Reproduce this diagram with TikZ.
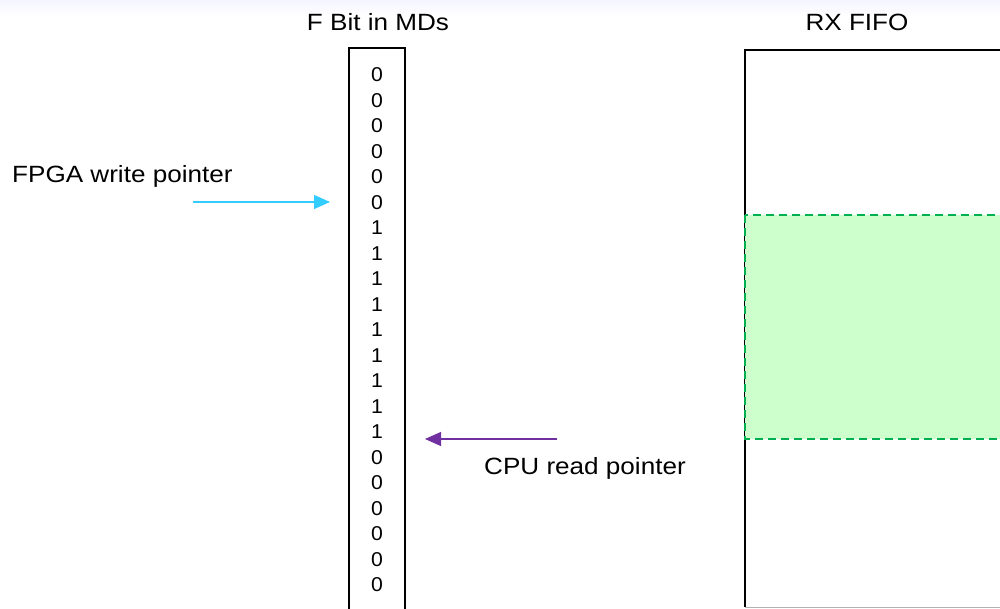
\documentclass[tikz,border=0pt]{standalone}
\usepackage{fontspec}
\setmainfont{Liberation Sans}
\usetikzlibrary{arrows.meta}
\definecolor{ptrblue}{HTML}{33CCFF}
\definecolor{ptrpurple}{HTML}{7030A0}
\definecolor{fifofill}{HTML}{CCFFCC}
\definecolor{fifoline}{HTML}{00B050}
\tikzset{
  lbl/.style={inner sep=0pt, font=\fontsize{23.5}{25}\selectfont, xscale=1.11},
  digit/.style={inner sep=0pt, font=\fontsize{20}{22}\selectfont, xscale=1.06},
  boxline/.style={draw=black, line width=1.2pt},
  ptr/.style={line width=1.2pt, -{Triangle[length=16pt,width=14pt]}}
}
\begin{document}
\begin{tikzpicture}[x=1pt,y=-1pt]
\useasboundingbox (0,0) rectangle (1000,609);
\fill[white] (0,0) rectangle (1000,609);
\fill[top color=blue!4, bottom color=white] (0,0) rectangle (1000,16);
% titles
\node[lbl] (t1) at (378,22) {F Bit in MDs};
\node[lbl] (t2) at (857,22) {RX FIFO};
% MD column
\draw[boxline] (349,640) -- (349,48) -- (405,48) -- (405,640);
\foreach \v [count=\i from 0] in {0,0,0,0,0,0,1,1,1,1,1,1,1,1,1,0,0,0,0,0,0}{
  \node[digit] (d\i) at (377,{75+25.5*\i}) {\v};
}
% RX FIFO
\draw[boxline] (1010,50) -- (745,50) -- (745,607);
\draw[gray!60, line width=1pt] (745,607.5) -- (1010,607.5);
\filldraw[fill=fifofill, draw=fifoline, line width=1.6pt, dash pattern=on 8pt off 5pt] (745,215) rectangle (1010,439);
% pointers
\node[lbl, anchor=west] (fpga) at (12,176) {FPGA write pointer};
\coordinate (ws) at (193,202);
\coordinate (we) at (330,202);
\draw[ptr, ptrblue] (ws) -- (we);
\node[lbl] (cpu) at (585,468) {CPU read pointer};
\coordinate (rs) at (557,439);
\coordinate (re) at (425,439);
\draw[ptr, ptrpurple] (rs) -- (re);
\end{tikzpicture}
\end{document}
